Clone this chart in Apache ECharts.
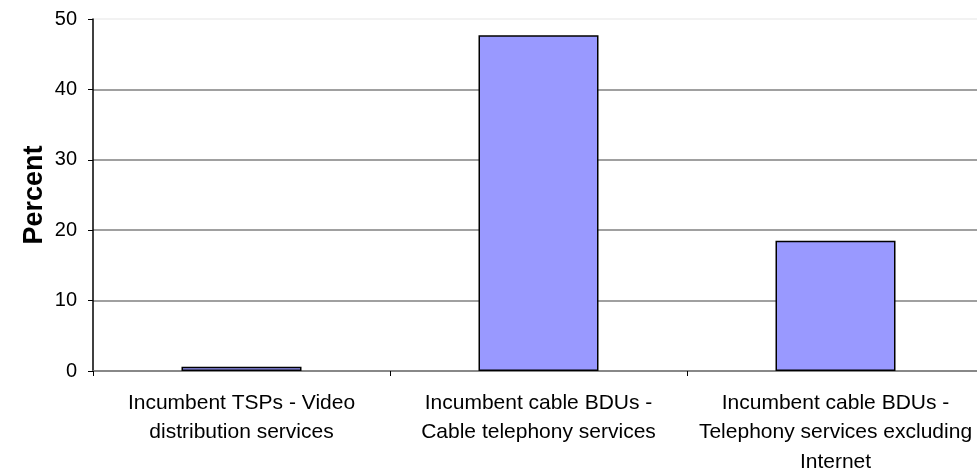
<!DOCTYPE html>
<html>
<head>
<meta charset="utf-8">
<script src="https://cdn.jsdelivr.net/npm/echarts@6/dist/echarts.min.js"></script>
<style>html,body{margin:0;padding:0;background:#fff;}#c{width:977px;height:472px;}</style>
</head>
<body>
<div id="c"></div>
<script>
const categories = [
  "Incumbent TSPs - Video\ndistribution services",
  "Incumbent cable BDUs -\nCable telephony services",
  "Incumbent cable BDUs -\nTelephony services excluding\nInternet"
];
const values = [0.6, 47.7, 18.5];
const yTicks = [0, 10, 20, 30, 40, 50];
const yAxisName = "Percent";

const chart = echarts.init(document.getElementById('c'), null, {renderer: 'canvas'});
const font = '"Liberation Sans", Arial, sans-serif';
chart.setOption({
  animation: false,
  backgroundColor: '#fff',
  grid: {left: 93, top: 19, width: 891, height: 352, containLabel: false, outerBoundsMode: 'none'},
  xAxis: {
    type: 'category',
    data: categories,
    axisLine: {show: true, lineStyle: {color: '#808080', width: 1.5}},
    axisTick: {show: true, length: 5, lineStyle: {color: '#000'}},
    axisLabel: {interval: 0, margin: 17, color: '#000', fontFamily: font, fontSize: 21, lineHeight: 29.5, hideOverlap: false},
    splitLine: {show: false}
  },
  yAxis: {
    type: 'value',
    min: yTicks[0], max: yTicks[yTicks.length - 1], interval: 10,
    name: yAxisName,
    nameLocation: 'middle',
    nameGap: 45,
    nameMoveOverlap: false,
    nameTextStyle: {color: '#000', fontFamily: font, fontSize: 27, fontWeight: 'bold'},
    axisLine: {show: true, lineStyle: {color: '#000', width: 1.5}},
    axisTick: {show: true, length: 5, lineStyle: {color: '#000'}},
    axisLabel: {margin: 16, color: '#000', fontFamily: font, fontSize: 20},
    splitLine: {show: true, lineStyle: {color: ['#808080','#808080','#808080','#808080','#808080','#eeeeee'], width: 1.5}}
  },
  series: [{
    type: 'bar',
    data: values,
    barWidth: 120,
    itemStyle: {color: '#9999ff', borderColor: '#000', borderWidth: 1.5}
  }]
});
</script>
</body>
</html>
